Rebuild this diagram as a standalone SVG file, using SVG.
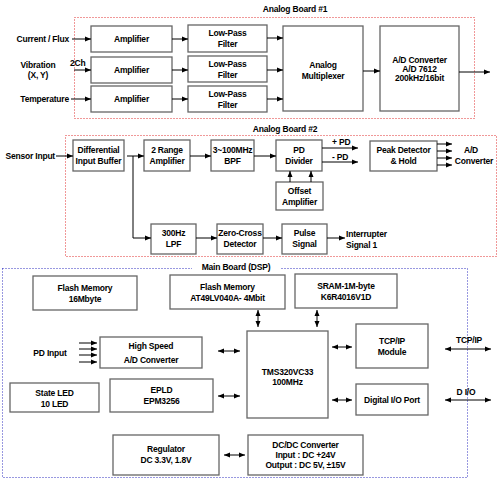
<svg xmlns="http://www.w3.org/2000/svg" width="499" height="486" viewBox="0 0 499 486">
<defs>
<marker id="ah" viewBox="0 0 6 6" refX="6" refY="3" markerWidth="6" markerHeight="6" markerUnits="userSpaceOnUse" orient="auto-start-reverse"><path d="M0,0.5 L6,3 L0,5.5 z" fill="#000"/></marker>
</defs>
<style>
.bx{fill:#fff;stroke:#666;stroke-width:1.3}
.t{font-family:"Liberation Sans",Arial,sans-serif;font-weight:bold;font-size:8.5px;letter-spacing:-0.2px;fill:#000;text-anchor:middle}
.l{text-anchor:start}
.r{text-anchor:end}
.ln{stroke:#000;stroke-width:1;fill:none}
.a{marker-end:url(#ah)}
.d{marker-start:url(#ah);marker-end:url(#ah)}
.red{fill:none;stroke:#e03030;stroke-width:1;stroke-dasharray:1,2}
.blue{fill:none;stroke:#3030c0;stroke-width:1;stroke-dasharray:1,2}
</style>
<rect width="499" height="486" fill="#fff"/>

<g id="board1">
<rect class="red" x="74.5" y="17.5" width="400" height="101"/>
<text class="t" x="295" y="12">Analog Board #1</text>
</g>
<g id="board2">
<rect class="red" x="65.5" y="135.5" width="431" height="121"/>
<text class="t" x="285" y="132">Analog Board #2</text>
</g>
<g id="board3">
<rect class="blue" x="2.5" y="268.5" width="465" height="209"/>
<rect x="192" y="261" width="88" height="12" fill="#fff"/>
<text class="t" x="236" y="270">Main Board (DSP)</text>
</g>

<g id="labels">
<text class="t r" x="69" y="42">Current / Flux</text>
<text class="t" x="38" y="68">Vibration</text>
<text class="t" x="38" y="78">(X, Y)</text>
<text class="t l" x="70" y="66">2Ch</text>
<text class="t r" x="69" y="102">Temperature</text>
<text class="t r" x="55" y="159">Sensor Input</text>
<text class="t l" x="332" y="145">+ PD</text>
<text class="t l" x="332" y="160">- PD</text>
<text class="t" x="471" y="153">A/D</text>
<text class="t" x="474" y="164">Converter</text>
<text class="t l" x="346" y="237">Interrupter</text>
<text class="t l" x="346" y="248">Signal 1</text>
<text class="t" x="50" y="356">PD Input</text>
<text class="t" x="469" y="343">TCP/IP</text>
<text class="t" x="466" y="395">D I/O</text>
</g>

<g id="amp1"><rect class="bx" x="91" y="26" width="81" height="26"/><text class="t" x="131.5" y="42">Amplifier</text></g>
<g id="amp2"><rect class="bx" x="91" y="57" width="81" height="26"/><text class="t" x="131.5" y="73">Amplifier</text></g>
<g id="amp3"><rect class="bx" x="91" y="86" width="81" height="26"/><text class="t" x="131.5" y="102">Amplifier</text></g>
<g id="lpf1"><rect class="bx" x="188" y="25" width="79" height="27"/><text class="t" x="227.5" y="36">Low-Pass</text><text class="t" x="227.5" y="47">Filter</text></g>
<g id="lpf2"><rect class="bx" x="188" y="56" width="79" height="26"/><text class="t" x="227.5" y="67">Low-Pass</text><text class="t" x="227.5" y="78">Filter</text></g>
<g id="lpf3"><rect class="bx" x="188" y="86" width="79" height="26"/><text class="t" x="227.5" y="97">Low-Pass</text><text class="t" x="227.5" y="108">Filter</text></g>
<g id="mux"><rect class="bx" x="283" y="26" width="80" height="85"/><text class="t" x="323" y="68">Analog</text><text class="t" x="323" y="79">Multiplexer</text></g>
<g id="adc1"><rect class="bx" x="380" y="26" width="79" height="85"/><text class="t" x="419.5" y="63">A/D Converter</text><text class="t" x="419.5" y="72">A/D 7612</text><text class="t" x="419.5" y="81">200kHz/16bit</text></g>

<g id="dib"><rect class="bx" x="73" y="140" width="51" height="31"/><text class="t" x="98.5" y="153">Differential</text><text class="t" x="98.5" y="164">Input Buffer</text></g>
<g id="rng"><rect class="bx" x="144" y="140" width="46" height="31"/><text class="t" x="167" y="153">2 Range</text><text class="t" x="167" y="164">Amplifier</text></g>
<g id="bpf"><rect class="bx" x="211" y="140" width="43" height="31"/><text class="t" x="232.5" y="153">3~100MHz</text><text class="t" x="232.5" y="164">BPF</text></g>
<g id="pdd"><rect class="bx" x="276" y="140" width="46" height="31"/><text class="t" x="299" y="153">PD</text><text class="t" x="299" y="164">Divider</text></g>
<g id="off"><rect class="bx" x="276" y="182" width="47" height="28"/><text class="t" x="299.5" y="194">Offset</text><text class="t" x="299.5" y="205">Amplifier</text></g>
<g id="pkd"><rect class="bx" x="370" y="141" width="67" height="30"/><text class="t" x="403.5" y="153">Peak Detector</text><text class="t" x="403.5" y="164">&amp; Hold</text></g>
<g id="lpf300"><rect class="bx" x="151" y="224" width="45" height="30"/><text class="t" x="173.5" y="236">300Hz</text><text class="t" x="173.5" y="247">LPF</text></g>
<g id="zcd"><rect class="bx" x="217" y="224" width="46" height="30"/><text class="t" x="240" y="236">Zero-Cross</text><text class="t" x="240" y="247">Detector</text></g>
<g id="pls"><rect class="bx" x="282" y="224" width="45" height="30"/><text class="t" x="304.5" y="236">Pulse</text><text class="t" x="304.5" y="247">Signal</text></g>

<g id="flash16"><rect class="bx" x="33" y="276" width="104" height="34"/><text class="t" x="85" y="291">Flash Memory</text><text class="t" x="85" y="302">16Mbyte</text></g>
<g id="flash4"><rect class="bx" x="170" y="275" width="115" height="34"/><text class="t" x="227.5" y="290">Flash Memory</text><text class="t" x="227.5" y="301">AT49LV040A- 4Mbit</text></g>
<g id="sram"><rect class="bx" x="295" y="274" width="102" height="34"/><text class="t" x="346" y="289">SRAM-1M-byte</text><text class="t" x="346" y="300">K6R4016V1D</text></g>
<g id="hsad"><rect class="bx" x="100" y="337" width="102" height="31"/><text class="t" x="151" y="349">High Speed</text><text class="t" x="151" y="363">A/D Converter</text></g>
<g id="dsp"><rect class="bx" x="247" y="331" width="81" height="87"/><text class="t" x="287.5" y="375">TMS320VC33</text><text class="t" x="287.5" y="385">100MHz</text></g>
<g id="tcp"><rect class="bx" x="356" y="324" width="72" height="44"/><text class="t" x="392" y="344">TCP/IP</text><text class="t" x="392" y="355">Module</text></g>
<g id="led"><rect class="bx" x="10" y="383" width="89" height="29"/><text class="t" x="54.5" y="396">State LED</text><text class="t" x="54.5" y="407">10 LED</text></g>
<g id="epld"><rect class="bx" x="110" y="379" width="103" height="33"/><text class="t" x="161.5" y="393">EPLD</text><text class="t" x="161.5" y="404">EPM3256</text></g>
<g id="dio"><rect class="bx" x="356" y="384" width="72" height="31"/><text class="t" x="392" y="403">Digital I/O Port</text></g>
<g id="reg"><rect class="bx" x="113" y="435" width="106" height="40"/><text class="t" x="166" y="452">Regulator</text><text class="t" x="166" y="463">DC 3.3V, 1.8V</text></g>
<g id="dcdc"><rect class="bx" x="248" y="435" width="115" height="40"/><text class="t" x="305.5" y="448">DC/DC Converter</text><text class="t" x="305.5" y="458">Input : DC +24V</text><text class="t" x="305.5" y="468">Output : DC 5V, ±15V</text></g>

<g id="connectors">
<line class="ln a" x1="72" y1="39" x2="91" y2="39"/>
<line class="ln a" x1="74" y1="70" x2="91" y2="70"/>
<line class="ln a" x1="71" y1="99" x2="91" y2="99"/>
<line class="ln a" x1="172" y1="39" x2="188" y2="39"/>
<line class="ln a" x1="172" y1="70" x2="188" y2="70"/>
<line class="ln a" x1="172" y1="99" x2="188" y2="99"/>
<line class="ln a" x1="267" y1="38" x2="283" y2="38"/>
<line class="ln a" x1="267" y1="70" x2="283" y2="70"/>
<line class="ln a" x1="267" y1="99" x2="283" y2="99"/>
<line class="ln a" x1="363" y1="71" x2="380" y2="71"/>
<line class="ln a" x1="459" y1="72" x2="490" y2="72"/>

<line class="ln a" x1="56" y1="156" x2="73" y2="156"/>
<line class="ln a" x1="127" y1="156" x2="144" y2="156"/>
<polyline class="ln a" points="133,156 133,238 151,238"/>
<line class="ln a" x1="190" y1="156" x2="211" y2="156"/>
<line class="ln a" x1="254" y1="156" x2="276" y2="156"/>
<line class="ln a" x1="322" y1="148" x2="358" y2="148"/>
<line class="ln a" x1="322" y1="162" x2="358" y2="162"/>
<line class="ln a" x1="290" y1="182" x2="290" y2="171"/>
<line class="ln a" x1="311" y1="182" x2="311" y2="171"/>
<line class="ln a" x1="437" y1="144" x2="452" y2="144"/>
<line class="ln a" x1="437" y1="151" x2="452" y2="151"/>
<line class="ln a" x1="437" y1="158" x2="452" y2="158"/>
<line class="ln a" x1="437" y1="165" x2="452" y2="165"/>
<line class="ln a" x1="196" y1="238" x2="217" y2="238"/>
<line class="ln a" x1="263" y1="238" x2="282" y2="238"/>
<line class="ln a" x1="327" y1="238" x2="345" y2="238"/>

<line class="ln a" x1="79" y1="343" x2="97" y2="343"/>
<line class="ln a" x1="79" y1="349" x2="97" y2="349"/>
<line class="ln a" x1="79" y1="355" x2="97" y2="355"/>
<line class="ln a" x1="79" y1="362" x2="97" y2="362"/>
<line class="ln d" x1="218" y1="351" x2="240" y2="351"/>
<line class="ln d" x1="218" y1="396" x2="240" y2="396"/>
<line class="ln d" x1="258" y1="310" x2="258" y2="327"/>
<line class="ln d" x1="317" y1="310" x2="317" y2="327"/>
<line class="ln d" x1="332" y1="347" x2="352" y2="347"/>
<line class="ln d" x1="332" y1="400" x2="352" y2="400"/>
<line class="ln d" x1="445" y1="349" x2="491" y2="349"/>
<line class="ln d" x1="445" y1="400" x2="491" y2="400"/>
<line class="ln d" x1="224" y1="455" x2="245" y2="455"/>
</g>
</svg>
